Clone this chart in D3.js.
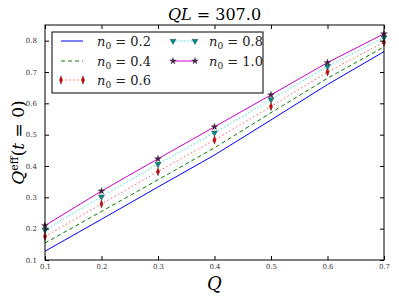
<!DOCTYPE html>
<html>
<head>
<meta charset="utf-8">
<script src="https://cdn.jsdelivr.net/npm/d3@7"></script>
<style>
  body { margin: 0; background: #fff; }
  text { font-family: "DejaVu Serif", "Liberation Serif", serif; }
</style>
</head>
<body>
<div id="chart"></div>
<script>
// values
var qValues = [0.1, 0.2, 0.3, 0.4, 0.5, 0.6, 0.7];
var n02 = [0.128, 0.230, 0.333, 0.435, 0.547, 0.660, 0.765];
var n04 = [0.154, 0.255, 0.356, 0.458, 0.570, 0.680, 0.780];
var n06 = [0.175, 0.279, 0.382, 0.483, 0.590, 0.700, 0.795];
var n08 = [0.196, 0.302, 0.406, 0.506, 0.612, 0.718, 0.810];
var n10 = [0.210, 0.320, 0.423, 0.525, 0.627, 0.730, 0.822];
var seriesNames = ["0.2", "0.4", "0.6", "0.8", "1.0"];
var xTicks = [0.1, 0.2, 0.3, 0.4, 0.5, 0.6, 0.7];
var yTicks = [0.1, 0.2, 0.3, 0.4, 0.5, 0.6, 0.7, 0.8];

const
	W = 399, H = 299,
	LEFT = 45, RIGHT = 384, TOP = 25, BOTTOM = 260,
	TICK = 4;

var styles = [
	{line: "#0000ff", dash: null, marker: null},
	{line: "#008000", dash: "4,3", marker: null},
	{line: "#ff6060", dash: "1.5,2.5", marker: "diamond", mcolor: "#e00000"},
	{line: "#40e0e0", dash: "1.5,2", marker: "triangle", mcolor: "#008b8b"},
	{line: "#cc00cc", dash: null, marker: "star", mcolor: "#4a1a4a"}
];
var allSeries = [n02, n04, n06, n08, n10];

var svg = d3.select("#chart").append("svg")
	.attr("width", W).attr("height", H);

var x = d3.scaleLinear().domain([0.1, 0.7]).range([LEFT, RIGHT]);
var y = d3.scaleLinear().domain([0.1, 0.85]).range([BOTTOM, TOP]);

var symbolOf = function(m) {
	if (m == "diamond") return d3.symbol().type(d3.symbolDiamond).size(14);
	if (m == "triangle") return d3.symbol().type(d3.symbolTriangle).size(16);
	return d3.symbol().type(d3.symbolStar).size(14);
};
var markTransform = function(m, px, py) {
	return "translate(" + px + "," + py + ")" +
		(m == "triangle" ? " rotate(180)" : "") +
		(m == "diamond" ? " scale(0.8,1.2)" : "");
};

// lines
var line = d3.line().x(function(d, i) { return x(qValues[i]); }).y(function(d) { return y(d); });
allSeries.forEach(function(vals, k) {
	var st = styles[k];
	svg.append("path")
		.attr("d", line(vals))
		.attr("fill", "none")
		.attr("stroke", st.line)
		.attr("stroke-width", 1)
		.attr("stroke-dasharray", st.dash);
});
allSeries.forEach(function(vals, k) {
	var st = styles[k];
	if (!st.marker) return;
	svg.selectAll(null).data(vals).enter().append("path")
		.attr("d", symbolOf(st.marker))
		.attr("transform", function(d, i) { return markTransform(st.marker, x(qValues[i]), y(d)); })
		.attr("fill", st.mcolor)
		.attr("stroke", "#333")
		.attr("stroke-width", 0.4);
});

// frame and ticks (inward, all sides)
svg.append("rect")
	.attr("x", LEFT).attr("y", TOP)
	.attr("width", RIGHT - LEFT).attr("height", BOTTOM - TOP)
	.attr("fill", "none").attr("stroke", "#000").attr("stroke-width", 1);

var xAxis = d3.axisBottom(x).tickValues(xTicks).tickSize(-TICK).tickPadding(4).tickFormat(d3.format(".1f"));
var yAxis = d3.axisLeft(y).tickValues(yTicks).tickSize(-TICK).tickPadding(8).tickFormat(d3.format(".1f"));
svg.append("g").attr("transform", "translate(0," + BOTTOM + ")").call(xAxis);
svg.append("g").attr("transform", "translate(" + LEFT + ",0)").call(yAxis);
svg.append("g").attr("transform", "translate(0," + TOP + ")")
	.call(d3.axisTop(x).tickValues(xTicks).tickSize(-TICK).tickFormat(""));
svg.append("g").attr("transform", "translate(" + RIGHT + ",0)")
	.call(d3.axisRight(y).tickValues(yTicks).tickSize(-TICK).tickFormat(""));
svg.selectAll(".domain").remove();
svg.selectAll(".tick text")
	.style("font-family", "'DejaVu Serif', serif")
	.style("font-size", "7px")
	.attr("fill", "#333");

// title
var title = svg.append("text")
	.attr("x", (LEFT + RIGHT) / 2).attr("y", 20)
	.attr("text-anchor", "middle")
	.style("font-size", "16px");
title.append("tspan").style("font-style", "italic").text("QL");
title.append("tspan").text(" = 307.0");

// axis labels
svg.append("text")
	.attr("x", (LEFT + RIGHT) / 2).attr("y", 290)
	.attr("text-anchor", "middle")
	.style("font-size", "18px").style("font-style", "italic")
	.text("Q");

var yl = svg.append("text")
	.attr("transform", "translate(24," + ((TOP + BOTTOM) / 2) + ") rotate(-90)")
	.attr("text-anchor", "middle")
	.style("font-size", "17px");
yl.append("tspan").style("font-style", "italic").text("Q");
yl.append("tspan").attr("dy", -6).style("font-size", "11px").text("eff");
yl.append("tspan").attr("dy", 6).text("(");
yl.append("tspan").style("font-style", "italic").text("t");
yl.append("tspan").text(" = 0)");

// legend
var legend = svg.append("g");
legend.append("rect")
	.attr("x", 52).attr("y", 32).attr("width", 211).attr("height", 61)
	.attr("fill", "#fff").attr("stroke", "#000").attr("stroke-width", 1);
var legendPos = [[61, 41], [61, 61], [61, 80], [173, 41], [173, 61]];
seriesNames.forEach(function(name, k) {
	var st = styles[k], p = legendPos[k];
	legend.append("line")
		.attr("x1", p[0]).attr("x2", p[0] + 22)
		.attr("y1", p[1]).attr("y2", p[1])
		.attr("stroke", st.line).attr("stroke-width", 1)
		.attr("stroke-dasharray", st.dash);
	if (st.marker) {
		[p[0], p[0] + 22].forEach(function(mx) {
			legend.append("path")
				.attr("d", symbolOf(st.marker))
				.attr("transform", markTransform(st.marker, mx, p[1]))
				.attr("fill", st.mcolor).attr("stroke", "#333").attr("stroke-width", 0.4);
		});
	}
	var t = legend.append("text")
		.attr("x", p[0] + 36).attr("y", p[1] + 5)
		.style("font-size", "13px").attr("fill", "#222");
	t.append("tspan").style("font-style", "italic").text("n");
	t.append("tspan").attr("dy", 3).style("font-size", "9px").text("0");
	t.append("tspan").attr("dy", -3).text(" = " + name);
});
</script>
</body>
</html>
